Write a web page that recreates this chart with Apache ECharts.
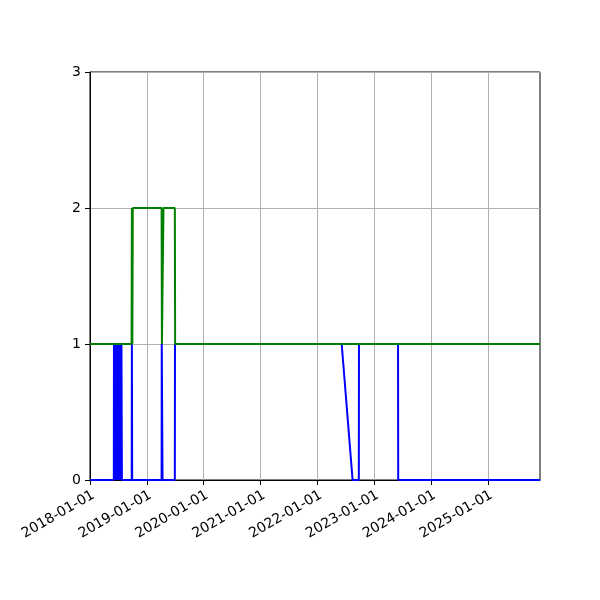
<!DOCTYPE html>
<html>
<head>
<meta charset="utf-8">
<script src="https://cdn.jsdelivr.net/npm/echarts@6/dist/echarts.min.js"></script>
<style>html,body{margin:0;padding:0;background:#fff}</style>
</head>
<body>
<div id="chart" style="width:600px;height:600px"></div>
<script>
const xTicks = ['2018-01-01', '2019-01-01', '2020-01-01', '2021-01-01', '2022-01-01', '2023-01-01', '2024-01-01', '2025-01-01']
const yTicks = [0, 1, 2, 3]
const xStart = '2018-01-01'
const xEnd = '2025-12-01'

const blueDates = ['2018-01-01', '2018-06-03', '2018-06-04', '2018-06-07', '2018-06-10', '2018-06-13', '2018-06-16', '2018-06-19',
  '2018-06-22', '2018-06-25', '2018-06-28', '2018-07-01', '2018-07-04', '2018-07-07', '2018-07-10', '2018-07-13',
  '2018-07-16', '2018-07-19', '2018-07-22', '2018-07-25', '2018-09-26', '2018-09-27', '2018-09-29',
  '2019-04-06', '2019-04-07', '2019-04-12', '2019-06-30', '2019-07-01', '2022-06-06', '2022-08-15',
  '2022-09-24', '2022-09-25', '2023-06-03', '2023-06-04', '2025-12-01']
const blueValues = [0, 0, 1, 0, 1, 0, 1, 0,
  1, 0, 1, 0, 1, 0, 1, 0,
  1, 0, 1, 0, 0, 1, 0,
  0, 1, 0, 0, 1, 1, 0,
  0, 1, 1, 0, 0]

const greenDates = ['2018-01-01', '2018-09-25', '2018-09-27', '2018-09-30', '2018-10-03', '2019-04-06', '2019-04-08',
  '2019-04-16', '2019-04-18', '2019-06-30', '2019-07-02', '2025-12-01']
const greenValues = [1, 1, 2, 1, 2, 2, 1, 1, 2, 2, 1, 1]

const ts = d => echarts.time.parse(d).getTime()
const pair = (d, v) => d.map((x, i) => [ts(x), v[i]])
const tickTimes = xTicks.map(ts)

const chart = echarts.init(document.getElementById('chart'))
chart.setOption({
  animation: false,
  textStyle: { fontFamily: 'DejaVu Sans' },
  grid: { left: 90, right: 60, top: 72, bottom: 120, show: true, borderColor: '#000', borderWidth: 1, backgroundColor: 'transparent' },
  xAxis: {
    type: 'value',
    min: ts(xStart),
    max: ts(xEnd),
    axisLine: { show: true, onZero: false, lineStyle: { color: '#000', width: 1 } },
    axisTick: { show: true, length: 5, lineStyle: { color: '#000' }, customValues: tickTimes },
    axisLabel: {
      customValues: tickTimes,
      rotate: 30, color: '#000', fontSize: 14, margin: 8, verticalAlign: 'top',
      formatter: v => echarts.time.format(v, '{yyyy}-{MM}-{dd}', false)
    },
    splitLine: { show: true, lineStyle: { color: '#b0b0b0', width: 1 } }
  },
  yAxis: {
    type: 'value',
    min: yTicks[0],
    max: yTicks[yTicks.length - 1],
    interval: 1,
    axisLine: { show: true, lineStyle: { color: '#000', width: 1 } },
    axisTick: { show: true, length: 5, lineStyle: { color: '#000' } },
    axisLabel: { color: '#000', fontSize: 14, margin: 9 },
    splitLine: { show: true, lineStyle: { color: '#b0b0b0', width: 1 } }
  },
  series: [
    { type: 'line', data: pair(blueDates, blueValues), showSymbol: false, lineStyle: { color: '#0000ff', width: 2 }, itemStyle: { color: '#0000ff' } },
    { type: 'line', data: pair(greenDates, greenValues), showSymbol: false, lineStyle: { color: '#008000', width: 2 }, itemStyle: { color: '#008000' } }
  ]
})
</script>
</body>
</html>
